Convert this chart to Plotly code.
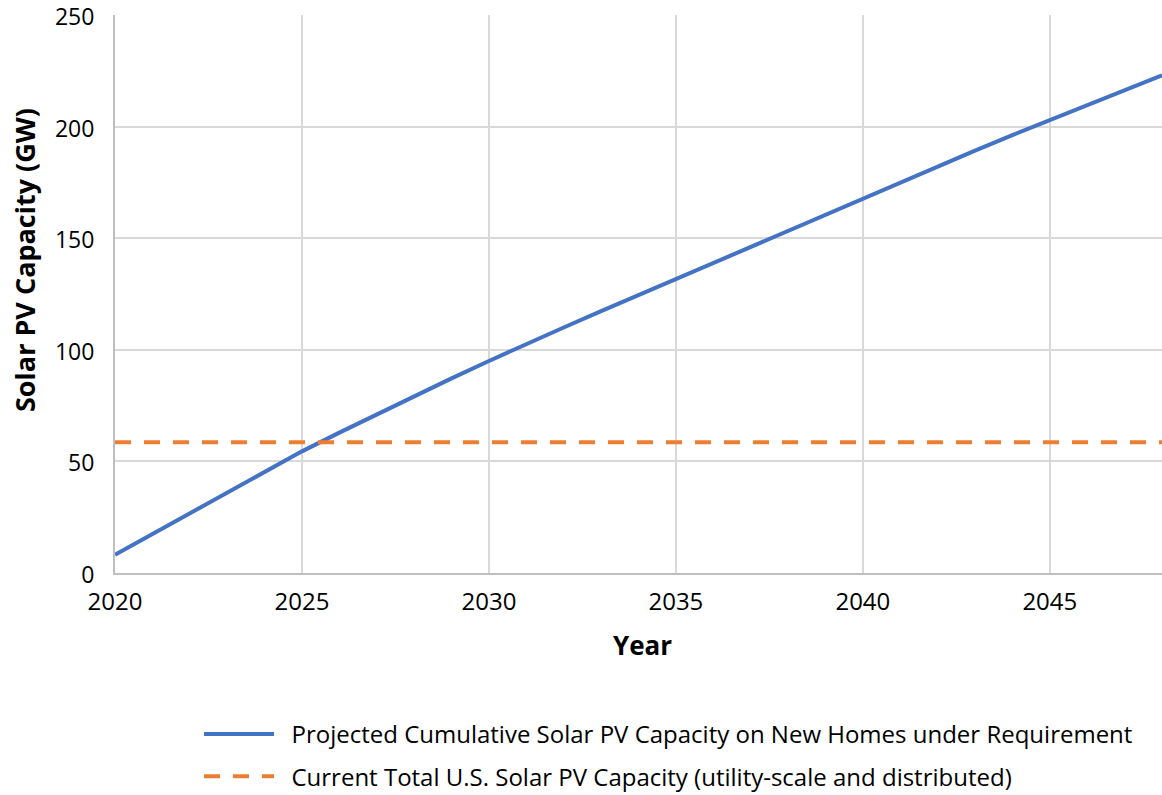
import plotly.graph_objects as go

years = list(range(2020, 2049))
projected = [8.2, 17.5, 26.8, 36.1, 45.3, 54.5, 62.9, 71.1, 79.2, 87.2,
             95.0, 102.6, 110.0, 117.3, 124.5, 131.7, 139.0, 146.3, 153.5, 160.7,
             167.8, 175.0, 182.1, 189.2, 196.2, 203.0, 209.7, 216.4, 223.0]
current_total = [58.6] * len(years)
x_ticks = [2020, 2025, 2030, 2035, 2040, 2045]
y_ticks = [0, 50, 100, 150, 200, 250]

name_proj = "Projected Cumulative Solar PV Capacity on New Homes under Requirement"
name_curr = "Current Total U.S. Solar PV Capacity (utility-scale and distributed)"

FONT = "'Open Sans', sans-serif"
NB = "\u00a0\u00a0"

fig = go.Figure()
fig.add_trace(go.Scatter(x=years, y=projected, mode="lines", name=NB + name_proj,
                         legendgroup="a",
                         line=dict(color="#4472C4", width=4)))
fig.add_trace(go.Scatter(x=years, y=current_total, mode="lines", name=NB + name_curr,
                         legendgroup="b",
                         line=dict(color="#ED7D31", width=4, dash="16px,13px")))

W, H = 1162, 795
L, T, B = 115, 15, 222
pw, ph = W - L, H - T - B

fig.update_layout(
    width=W, height=H,
    margin=dict(l=L, r=0, t=T, b=B, autoexpand=False),
    paper_bgcolor="white", plot_bgcolor="white",
    font=dict(family=FONT, size=20, color="#000000"),
    showlegend=True,
    legend=dict(orientation="v", xref="container", yref="container",
                x=199 / W, xanchor="left",
                y=1 - 712 / H, yanchor="top",
                font=dict(family=FONT, size=24, color="#000000"),
                itemwidth=70, tracegroupgap=8, bgcolor="rgba(0,0,0,0)"),
    xaxis=dict(range=[2020, 2048], tickmode="array", tickvals=x_ticks,
               ticktext=[str(v) for v in x_ticks],
               showgrid=True, gridcolor="#D9D9D9", gridwidth=1.5,
               showline=True, linecolor="#BFBFBF", linewidth=2,
               ticks="", ticklabelstandoff=6, zeroline=False, automargin=False,
               ticklabeloverflow="allow",
               tickfont=dict(family=FONT, size=24)),
    yaxis=dict(range=[0, 250], tickvals=y_ticks,
               showgrid=True, gridcolor="#D9D9D9", gridwidth=1.5,
               showline=True, linecolor="#BFBFBF", linewidth=2,
               ticks="", zeroline=False, ticklabelstandoff=14, automargin=False,
               ticklabeloverflow="allow", ticklabelshift=2,
               tickfont=dict(family=FONT, size=23)),
    annotations=[
        dict(text="<b>Solar PV Capacity (GW)</b>", xref="paper", yref="paper",
             x=(24 - L) / pw, y=(T + ph - 260) / ph, textangle=-90,
             xanchor="center", yanchor="middle", showarrow=False,
             font=dict(family=FONT, size=27, color="#000000")),
        dict(text="<b>Year</b>", xref="paper", yref="paper",
             x=(642 - L) / pw, y=(T + ph - 645) / ph,
             xanchor="center", yanchor="middle", showarrow=False,
             font=dict(family=FONT, size=26, color="#000000")),
    ],
)

fig.write_html("out.html", config={"displayModeBar": False},
               post_script="document.body.style.margin='0';")
